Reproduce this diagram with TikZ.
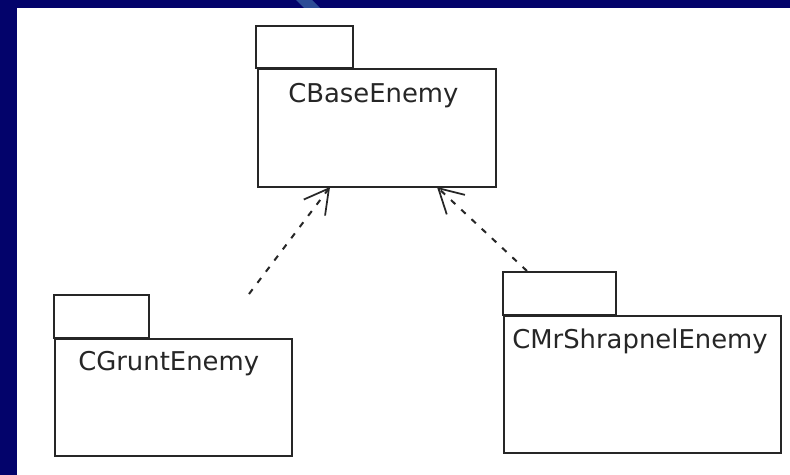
\documentclass[tikz,border=0pt]{standalone}
\usepackage{fontspec}
\setmainfont{DejaVu Sans}
\usetikzlibrary{arrows.meta}
\definecolor{navy}{HTML}{03036B}
\definecolor{streak}{HTML}{2C4C96}
\tikzset{
  pkgline/.style={draw=black!85, line width=1.6pt},
  pkglabel/.style={font=\fontsize{19.4pt}{23pt}\selectfont, text=black!85, inner sep=0pt, anchor=base west},
  dep/.style={draw=black!85, line width=1.5pt, dash pattern=on 4.5pt off 6pt,
    -{Straight Barb[length=18pt, width=20pt, line width=1.3pt]}},
}
\begin{document}
\begin{tikzpicture}[x=0.75pt, y=-0.75pt]
\useasboundingbox (0,0) rectangle (790,475);
\fill[navy] (0,0) rectangle (790,475);
\fill[streak] (296,0) -- (312,0) -- (320,8) -- (304,8) -- cycle;
\fill[white] (17,8) rectangle (790,475);

% CBaseEnemy
\draw[pkgline] (256,26) rectangle (353,68);
\node[pkgline, minimum width=238*0.75pt, minimum height=118*0.75pt, inner sep=0pt, anchor=north west] (base) at (257,68) {};
\node[pkglabel] (baselbl) at (288,102) {CBaseEnemy};

% CGruntEnemy
\draw[pkgline] (54,295) rectangle (149,338);
\node[pkgline, minimum width=237*0.75pt, minimum height=117*0.75pt, inner sep=0pt, anchor=north west] (grunt) at (54,338) {};
\node[pkglabel] (gruntlbl) at (78,370) {CGruntEnemy};

% CMrShrapnelEnemy
\draw[pkgline] (503,272) rectangle (616,315);
\node[pkgline, minimum width=277*0.75pt, minimum height=137*0.75pt, inner sep=0pt, anchor=north west] (shrap) at (503,315) {};
\node[pkglabel] (shraplbl) at (512,348) {CMrShrapnelEnemy};

% dependencies
\coordinate (gstart) at (249,294);
\coordinate (btipL) at (330,187);
\coordinate (sstart) at (527,271);
\coordinate (btipR) at (437,187);
\draw[dep] (gstart) -- (btipL);
\draw[dep] (sstart) -- (btipR);
\end{tikzpicture}
\end{document}
